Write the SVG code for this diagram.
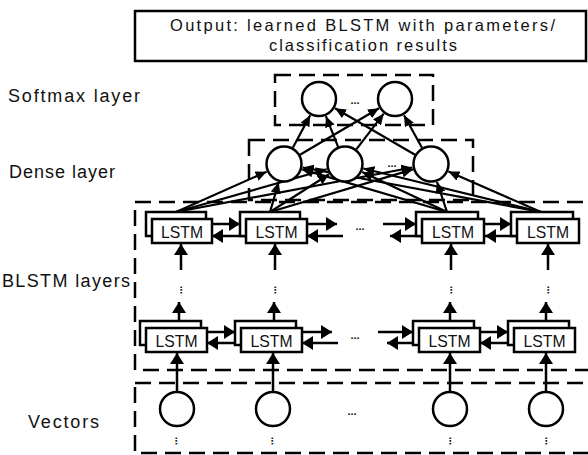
<svg xmlns="http://www.w3.org/2000/svg" width="588" height="455" viewBox="0 0 588 455">
<style>
.t{font-family:"Liberation Sans",Arial,sans-serif;font-size:18px;fill:#111}
.to{font-family:"Liberation Sans",Arial,sans-serif;font-size:16.5px;fill:#111}
.lt{font-family:"Liberation Sans",Arial,sans-serif;font-size:17px;fill:#111;text-anchor:middle}
.dots{font-family:"Liberation Sans",Arial,sans-serif;font-size:11px;font-weight:bold;fill:#111;text-anchor:middle}
.vd{font-family:"DejaVu Sans",sans-serif;font-size:9px;font-weight:bold;fill:#111;text-anchor:middle}
.dash{fill:none;stroke:#000;stroke-width:2.5;stroke-dasharray:16 8}
.box{fill:#fff;stroke:#000;stroke-width:2.5}
.c{fill:#fff;stroke:#000;stroke-width:2.5}
.ln{fill:none;stroke:#000;stroke-width:2.5;marker-end:url(#ah)}
.lns{fill:none;stroke:#000;stroke-width:2.2;marker-end:url(#ahs)}
</style>
<defs>
<marker id="ah" markerUnits="userSpaceOnUse" markerWidth="11" markerHeight="14" refX="11" refY="7" orient="auto">
<path d="M0,0 L11,7 L0,14 z" fill="#000"/>
</marker>
<marker id="ahs" markerUnits="userSpaceOnUse" markerWidth="11" markerHeight="10" refX="11" refY="5" orient="auto">
<path d="M0,0 L11,5 L0,10 z" fill="#000"/>
</marker>
</defs>
<rect width="588" height="455" fill="#fff"/>

<g id="output">
<rect class="box" x="135" y="11" width="451" height="50"/>
<text class="to" x="170" y="31" textLength="385" lengthAdjust="spacing">Output: learned BLSTM with parameters/</text>
<text class="to" x="269" y="51" textLength="188" lengthAdjust="spacing">classification results</text>
</g>

<g id="labels">
<text class="t" x="8" y="102" textLength="132" lengthAdjust="spacing">Softmax layer</text>
<text class="t" x="9" y="178" textLength="106" lengthAdjust="spacing">Dense layer</text>
<text class="t" x="2" y="287" textLength="128" lengthAdjust="spacing">BLSTM layers</text>
<text class="t" x="28" y="428" textLength="71" lengthAdjust="spacing">Vectors</text>
</g>

<g id="layer-boxes">
<rect id="softmax-box" class="dash" x="275" y="75" width="158" height="50"/>
<rect id="dense-box" class="dash" x="249" y="140" width="224" height="60"/>
<rect id="blstm-box" class="dash" x="135" y="202" width="480" height="168"/>
<rect id="vectors-box" class="dash" x="135" y="383" width="480" height="70"/>
</g>

<g id="connectors">
<line class="lns" x1="176" y1="212" x2="266.6" y2="171.7"/>
<line class="lns" x1="176" y1="212" x2="326.7" y2="169.2"/>
<line class="lns" x1="176" y1="212" x2="412.3" y2="167.5"/>
<line class="lns" x1="270" y1="212" x2="278.7" y2="182.2"/>
<line class="lns" x1="270" y1="212" x2="329" y2="174.2"/>
<line class="lns" x1="270" y1="212" x2="412.8" y2="169.4"/>
<line class="lns" x1="447" y1="212" x2="302.2" y2="169.4"/>
<line class="lns" x1="447" y1="212" x2="362.2" y2="172.1"/>
<line class="lns" x1="447" y1="212" x2="437" y2="182"/>
<line class="lns" x1="541" y1="212" x2="302.7" y2="167.5"/>
<line class="lns" x1="541" y1="212" x2="363.4" y2="168.5"/>
<line class="lns" x1="541" y1="212" x2="448.4" y2="171.6"/>
<line class="lns" x1="292.8" y1="147.7" x2="310.2" y2="115.3"/>
<line class="lns" x1="300" y1="154.7" x2="379" y2="108.3"/>
<line class="lns" x1="338.1" y1="146.8" x2="325.9" y2="116.2"/>
<line class="lns" x1="356.3" y1="149.3" x2="383.7" y2="113.7"/>
<line class="lns" x1="415" y1="154.7" x2="335" y2="108.3"/>
<line class="lns" x1="422" y1="147.8" x2="404" y2="115.2"/>
<line class="ln" x1="212" y1="224" x2="240" y2="224"/>
<line class="ln" x1="246" y1="236" x2="212" y2="236"/>
<line class="ln" x1="307" y1="224" x2="337" y2="224"/>
<line class="ln" x1="343" y1="236" x2="307" y2="236"/>
<line class="ln" x1="383" y1="224" x2="416" y2="224"/>
<line class="ln" x1="422" y1="236" x2="390" y2="236"/>
<line class="ln" x1="485" y1="224" x2="511" y2="224"/>
<line class="ln" x1="517" y1="236" x2="485" y2="236"/>
<line class="ln" x1="181" y1="270" x2="181" y2="244"/>
<line class="ln" x1="275" y1="270" x2="275" y2="244"/>
<line class="ln" x1="451" y1="270" x2="451" y2="244"/>
<line class="ln" x1="548" y1="270" x2="548" y2="244"/>
<line class="ln" x1="179" y1="328" x2="179" y2="302"/>
<line class="ln" x1="274" y1="328" x2="274" y2="302"/>
<line class="ln" x1="450" y1="328" x2="450" y2="302"/>
<line class="ln" x1="546" y1="328" x2="546" y2="302"/>
<line class="ln" x1="207" y1="332" x2="235" y2="332"/>
<line class="ln" x1="241" y1="343" x2="207" y2="343"/>
<line class="ln" x1="302" y1="332" x2="332" y2="332"/>
<line class="ln" x1="338" y1="343" x2="302" y2="343"/>
<line class="ln" x1="378" y1="332" x2="413" y2="332"/>
<line class="ln" x1="419" y1="343" x2="387" y2="343"/>
<line class="ln" x1="480" y1="332" x2="508" y2="332"/>
<line class="ln" x1="514" y1="343" x2="480" y2="343"/>
<line class="ln" x1="177" y1="392" x2="177" y2="353"/>
<line class="ln" x1="273" y1="392" x2="273" y2="353"/>
<line class="ln" x1="450" y1="392" x2="450" y2="353"/>
<line class="ln" x1="546" y1="392" x2="546" y2="353"/>
</g>

<g id="softmax">
<circle id="softmax-1" class="c" cx="319" cy="99" r="17"/>
<circle id="softmax-2" class="c" cx="395" cy="99" r="17"/>
<text class="dots" x="355" y="104">...</text>
</g>

<g id="dense">
<circle id="dense-1" class="c" cx="284" cy="164" r="17.5"/>
<circle id="dense-2" class="c" cx="345" cy="164" r="17.5"/>
<circle id="dense-3" class="c" cx="431" cy="164" r="17.5"/>
<text class="dots" x="392" y="167">...</text>
</g>

<g id="lstm-top-1"><rect class="box" x="146" y="212" width="60" height="24"/><rect class="box" x="152" y="219" width="60" height="24"/><text class="lt" x="182" y="238" textLength="42" lengthAdjust="spacingAndGlyphs">LSTM</text></g>
<g id="lstm-top-2"><rect class="box" x="240" y="212" width="60" height="24"/><rect class="box" x="246" y="219" width="61" height="24"/><text class="lt" x="276.5" y="238" textLength="42" lengthAdjust="spacingAndGlyphs">LSTM</text></g>
<g id="lstm-top-3"><rect class="box" x="416" y="212" width="62" height="24"/><rect class="box" x="422" y="219" width="62" height="24"/><text class="lt" x="453" y="238" textLength="42" lengthAdjust="spacingAndGlyphs">LSTM</text></g>
<g id="lstm-top-4"><rect class="box" x="511" y="212" width="62" height="24"/><rect class="box" x="517" y="219" width="62" height="24"/><text class="lt" x="548" y="238" textLength="42" lengthAdjust="spacingAndGlyphs">LSTM</text></g>
<text class="dots" x="360" y="230">...</text>

<g id="top-gaps">
<text class="vd" x="181" y="293">⋮</text>
<text class="vd" x="275" y="293">⋮</text>
<text class="vd" x="451" y="293">⋮</text>
<text class="vd" x="548" y="293">⋮</text>
</g>

<g id="lstm-bot-1"><rect class="box" x="140" y="321" width="61" height="24"/><rect class="box" x="146" y="328" width="61" height="24"/><text class="lt" x="176.5" y="347" textLength="42" lengthAdjust="spacingAndGlyphs">LSTM</text></g>
<g id="lstm-bot-2"><rect class="box" x="235" y="321" width="61" height="24"/><rect class="box" x="241" y="328" width="61" height="24"/><text class="lt" x="271.5" y="347" textLength="42" lengthAdjust="spacingAndGlyphs">LSTM</text></g>
<g id="lstm-bot-3"><rect class="box" x="413" y="321" width="61" height="24"/><rect class="box" x="419" y="328" width="61" height="24"/><text class="lt" x="449.5" y="347" textLength="42" lengthAdjust="spacingAndGlyphs">LSTM</text></g>
<g id="lstm-bot-4"><rect class="box" x="508" y="321" width="61" height="24"/><rect class="box" x="514" y="328" width="61" height="24"/><text class="lt" x="544.5" y="347" textLength="42" lengthAdjust="spacingAndGlyphs">LSTM</text></g>
<text class="dots" x="355" y="339">...</text>

<g id="vectors">
<circle id="vec-1" class="c" cx="177" cy="409" r="17"/>
<circle id="vec-2" class="c" cx="273" cy="409" r="17"/>
<circle id="vec-3" class="c" cx="450" cy="409" r="17"/>
<circle id="vec-4" class="c" cx="546" cy="409" r="17"/>
<text class="dots" x="352" y="415">...</text>
<text class="vd" x="176" y="444">⋮</text>
<text class="vd" x="272" y="444">⋮</text>
<text class="vd" x="450" y="444">⋮</text>
<text class="vd" x="546" y="444">⋮</text>
</g>
</svg>
